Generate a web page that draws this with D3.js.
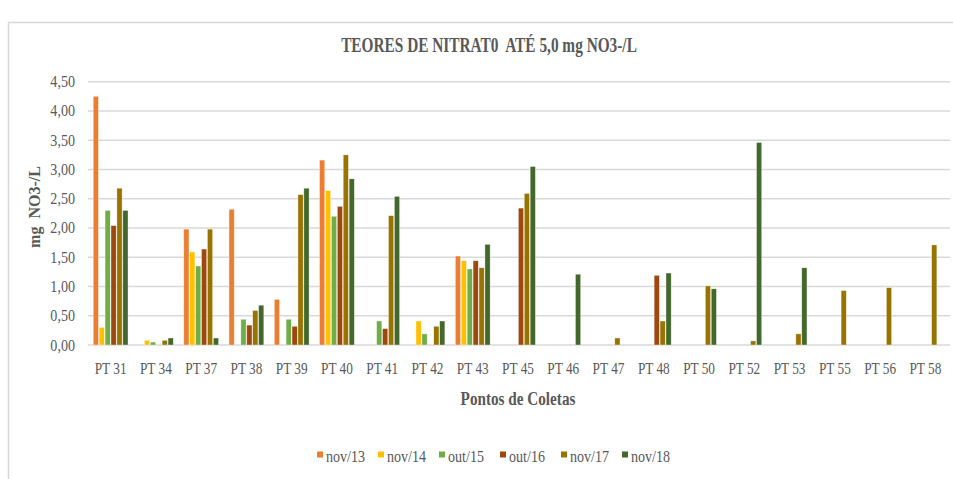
<!DOCTYPE html>
<html lang="en">
<head>
    <meta charset="UTF-8">
    <title>Teores de Nitrato</title>
    <script src="https://d3js.org/d3.v7.min.js"></script>
    <style>
        body { margin: 0; background: #fff; }
        text { font-family: "Liberation Serif", "Times New Roman", serif; fill: #595959; white-space: pre; }
    </style>
</head>
<body>
    <div id="chart"></div>

    <script>
        const width = 953;
        const height = 479;

        // Data
        const points = ["PT 31", "PT 34", "PT 37", "PT 38", "PT 39", "PT 40", "PT 41", "PT 42", "PT 43", "PT 45",
                        "PT 46", "PT 47", "PT 48", "PT 50", "PT 52", "PT 53", "PT 55", "PT 56", "PT 58"];
        const seriesNames = ["nov/13", "nov/14", "out/15", "out/16", "nov/17", "nov/18"];
        const seriesColors = ["#ED7D31", "#FFC000", "#70AD47", "#9E480E", "#997300", "#43682B"];

        const nov13 = [4.25, 0,    1.98, 2.32, 0.78, 3.16, 0,    0,    1.52, 0,    0,    0,    0,    0,    0,    0,    0,    0,    0];
        const nov14 = [0.30, 0.08, 1.59, 0,    0,    2.64, 0,    0.41, 1.44, 0,    0,    0,    0,    0,    0,    0,    0,    0,    0];
        const out15 = [2.30, 0.05, 1.35, 0.44, 0.44, 2.20, 0.41, 0.19, 1.30, 0,    0,    0,    0,    0,    0,    0,    0,    0,    0];
        const out16 = [2.04, 0,    1.64, 0.34, 0.32, 2.37, 0.28, 0,    1.44, 2.34, 0,    0,    1.19, 0,    0,    0,    0,    0,    0];
        const nov17 = [2.68, 0.08, 1.98, 0.59, 2.57, 3.25, 2.21, 0.32, 1.32, 2.59, 0,    0.12, 0.41, 1.01, 0.07, 0.19, 0.93, 0.98, 1.71];
        const nov18 = [2.30, 0.12, 0.12, 0.68, 2.68, 2.84, 2.54, 0.41, 1.72, 3.05, 1.21, 0,    1.23, 0.96, 3.46, 1.32, 0,    0,    0];

        const yTicks = [0, 0.5, 1, 1.5, 2, 2.5, 3, 3.5, 4, 4.5];

        const seriesValues = [nov13, nov14, out15, out16, nov17, nov18];
        const rows = [];
        seriesValues.forEach((vals, s) => {
            vals.forEach((v, i) => rows.push({ point: points[i], series: seriesNames[s], value: v }));
        });

        const svg = d3.select("#chart")
            .append("svg")
            .attr("width", width)
            .attr("height", height);

        // outer chart border
        svg.append("rect")
            .attr("x", 8.5).attr("y", 22.5)
            .attr("width", 980).attr("height", 480)
            .attr("fill", "none")
            .attr("stroke", "#d9d9d9")
            .attr("stroke-width", 1.5);

        const x = d3.scaleBand()
            .domain(points)
            .range([88, 948])
            .paddingInner(0.2)
            .paddingOuter(0.1);

        const xInner = d3.scaleBand()
            .domain(seriesNames)
            .range([0, x.bandwidth()])
            .padding(0.12);

        const y = d3.scaleLinear()
            .domain([0, 4.5])
            .range([345, 81.7]);

        const color = d3.scaleOrdinal().domain(seriesNames).range(seriesColors);

        // condensed text helper (the original font is narrow)
        function label(g, tx, ty, str, opts = {}) {
            const sx = opts.sx || 0.85;
            return g.append("text")
                .attr("transform", `translate(${tx},${ty}) ${opts.rotate ? "rotate(" + opts.rotate + ")" : ""} scale(${sx},1)`)
                .attr("text-anchor", opts.anchor || "middle")
                .attr("font-size", opts.size || 16)
                .attr("font-weight", opts.bold ? "bold" : "normal")
                .text(str);
        }

        // gridlines
        svg.append("g")
            .selectAll("line")
            .data(yTicks)
            .join("line")
            .attr("x1", 88).attr("x2", 950)
            .attr("y1", d => y(d)).attr("y2", d => y(d))
            .attr("stroke", "#d9d9d9")
            .attr("stroke-width", 1.5);

        // y tick labels
        const fmt = d => d3.format(".2f")(d).replace(".", ",");
        const yLabels = svg.append("g");
        yTicks.forEach(t => label(yLabels, 75, y(t) + 5.5, fmt(t), { anchor: "end", size: 16, sx: 0.88 }));

        // bars
        svg.append("g")
            .selectAll("rect")
            .data(rows.filter(d => d.value > 0))
            .join("rect")
            .attr("x", d => x(d.point) + xInner(d.series))
            .attr("y", d => y(d.value))
            .attr("width", xInner.bandwidth())
            .attr("height", d => y(0) - y(d.value))
            .attr("fill", d => color(d.series))
            .attr("stroke", "#fff")
            .attr("stroke-opacity", 0.6)
            .attr("stroke-width", 0.6);

        // x category labels
        const xLabels = svg.append("g");
        points.forEach(p => label(xLabels, x(p) + x.bandwidth() / 2, 374, p, { size: 16, sx: 0.83 }));

        // titles
        const titles = svg.append("g");
        label(titles, 489, 51.5, "TEORES DE NITRAT0  ATÉ 5,0 mg NO3-/L", { size: 21, bold: true, sx: 0.73 });
        label(titles, 518, 405, "Pontos de Coletas", { size: 19.5, bold: true, sx: 0.78 });
        label(titles, 39.5, 207, "mg  NO3-/L", { size: 16, bold: true, rotate: -90, sx: 1 });

        // legend
        const legend = svg.append("g");
        const legendX = [317, 378, 439, 500, 561, 622];
        seriesNames.forEach((s, i) => {
            legend.append("rect")
                .attr("x", legendX[i]).attr("y", 451.5)
                .attr("width", 6).attr("height", 6)
                .attr("fill", color(s));
            label(legend, legendX[i] + 9, 461.5, s, { anchor: "start", size: 16, sx: 0.88 });
        });
    </script>
</body>
</html>
